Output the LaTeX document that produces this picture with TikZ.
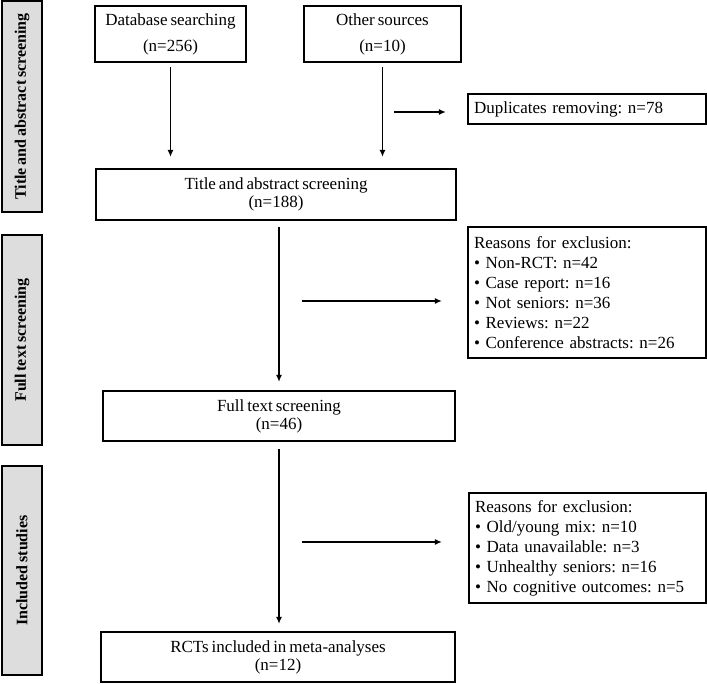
\documentclass[tikz,border=0pt]{standalone}
\usepackage{fontspec}
\setmainfont{Liberation Serif}[WordSpace=0.7]
\usetikzlibrary{arrows.meta}
\tikzset{>={Latex[length=7pt,width=6pt]}}
\definecolor{stagegray}{RGB}{221,221,221}
\tikzset{
    box/.style={draw, line width=2.2pt, inner sep=0pt, align=center, font=\fontsize{17}{18}\selectfont},
    exclbox/.style={draw, line width=2.2pt, inner sep=0pt, inner xsep=6pt, align=left, font=\fontsize{17}{20}\selectfont},
    stage/.style={draw, line width=2.2pt, fill=stagegray, rotate=90, minimum height=40pt, inner sep=0pt, font=\fontsize{16}{18}\selectfont\bfseries},
    flow/.style={->, line width=1.7pt}
}
\frenchspacing

\begin{document}
\begin{tikzpicture}[x=1pt,y=-1pt]
            \useasboundingbox (0,0) rectangle (707,684);
            \node[stage, minimum width=211pt] (sta) at (22,106.5) {Title and abstract screening};
            \node[stage, minimum width=210pt] (sft) at (22,340) {Full text screening};
            \node[stage, minimum width=209pt] (sin) at (22,570.5) {Included studies};
            \node[box, minimum width=151pt, minimum height=56pt] (dbs) at (170.5,34) {Database searching\\[8pt](n=256)};
            \node[box, minimum width=157pt, minimum height=56pt] (oth) at (382.5,34) {Other sources\\[8pt](n=10)};
            \node[box, minimum width=360pt, minimum height=51pt] (tas) at (276,194.5) {Title and abstract screening\\(n=188)};
            \node[box, minimum width=352pt, minimum height=50pt] (fts) at (279,416) {Full text screening\\(n=46)};
            \node[box, minimum width=354pt, minimum height=50pt] (rct) at (278,657) {RCTs included in meta-analyses\\(n=12)};
            \node[exclbox, text width=226pt, minimum height=30pt] (dup) at (587,109) {Duplicates removing: n=78};
            \node[exclbox, text width=226pt, minimum height=131pt] (ex1) at (587,292.5) {Reasons for exclusion:\\
                \textbullet\ Non-RCT: n=42\\
                \textbullet\ Case report: n=16\\
                \textbullet\ Not seniors: n=36\\
                \textbullet\ Reviews: n=22\\
                \textbullet\ Conference abstracts: n=26};
            \node[exclbox, text width=225pt, minimum height=110pt] (ex2) at (587.5,548) {Reasons for exclusion:\\
                \textbullet\ Old/young mix: n=10\\
                \textbullet\ Data unavailable: n=3\\
                \textbullet\ Unhealthy seniors: n=16\\
                \textbullet\ No cognitive outcomes: n=5};
            \coordinate (d0) at (394,112);
            \coordinate (e1) at (302,301);
            \coordinate (e2) at (302,542);
            \draw[flow, shorten <=4pt, shorten >=11pt] (dbs.south) -- (dbs.south |- tas.north);
            \draw[flow, shorten <=4pt, shorten >=11pt] (oth.south) -- (oth.south |- tas.north);
            \draw[flow, shorten >=21pt] (d0) -- (d0 -| dup.west);
            \draw[flow, shorten <=6pt, shorten >=8pt] (fts.north |- tas.south) -- (fts.north);
            \draw[flow, shorten >=25pt] (e1) -- (e1 -| ex1.west);
            \draw[flow, shorten <=7pt, shorten >=7pt] (fts.south) -- (fts.south |- rct.north);
            \draw[flow, shorten >=26pt] (e2) -- (e2 -| ex2.west);
        \end{tikzpicture}
\end{document}
